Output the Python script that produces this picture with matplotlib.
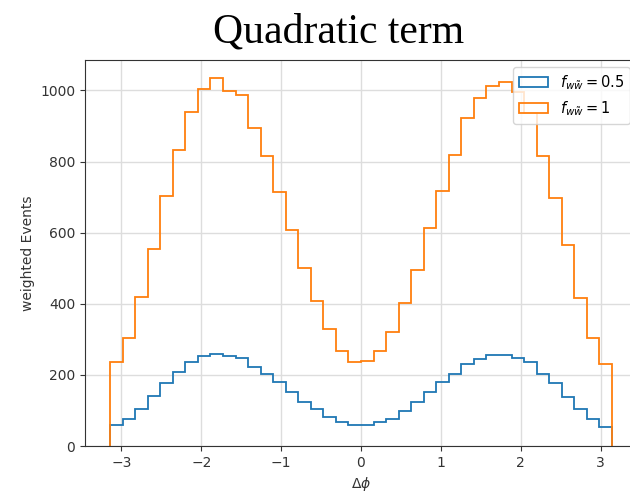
import numpy as np
import matplotlib
matplotlib.use("Agg")
import matplotlib.pyplot as plt

# weighted event counts per Delta-phi bin (40 bins over [-pi, pi])
counts_05 = [59, 75, 104, 140, 176, 207, 235, 252, 259, 254,
             247, 223, 203, 179, 151, 125, 103, 83, 67, 59,
             59, 67, 77, 99, 125, 151, 179, 203, 231, 244,
             255, 255, 248, 235, 203, 177, 139, 103, 75, 54]
counts_1 = [235, 303, 419, 555, 703, 832, 939, 1003, 1034, 998,
            988, 895, 815, 714, 607, 502, 409, 329, 268, 235,
            239, 268, 322, 402, 495, 613, 718, 819, 922, 978,
            1012, 1024, 997, 937, 815, 698, 564, 416, 305, 231]
labels = [r"$f_{w\tilde{w}}=0.5$", r"$f_{w\tilde{w}}=1$"]

edges = np.linspace(-np.pi, np.pi, len(counts_1) + 1)
centers = 0.5 * (edges[:-1] + edges[1:])

fig = plt.figure(figsize=(6.3, 4.93), dpi=100)
# axes run past the right edge, like the cropped original
ax = fig.add_axes([0.135, 0.0953, 0.876, 0.783])

ax.hist(centers, bins=edges, weights=counts_05, histtype="step",
        color="tab:blue", linewidth=1.3, label=labels[0])
ax.hist(centers, bins=edges, weights=counts_1, histtype="step",
        color="tab:orange", linewidth=1.3, label=labels[1])

ax.grid(True, color="#dddddd", linewidth=1)
ax.set_axisbelow(True)
ax.set_xlabel(r"$\Delta\phi$", fontsize=10, color="#333333")
ax.set_ylabel("weighted Events", fontsize=10, color="#333333")
ax.tick_params(labelsize=10, labelcolor="#333333", color="#333333")
for sp in ax.spines.values():
    sp.set_color("#333333")
ax.legend(loc="upper right", fontsize=10.5)

fig.text(0.537, 0.913, "Quadratic term", ha="center", va="baseline",
         fontsize=30, family="Liberation Serif")

fig.savefig("out.png", dpi=100)
